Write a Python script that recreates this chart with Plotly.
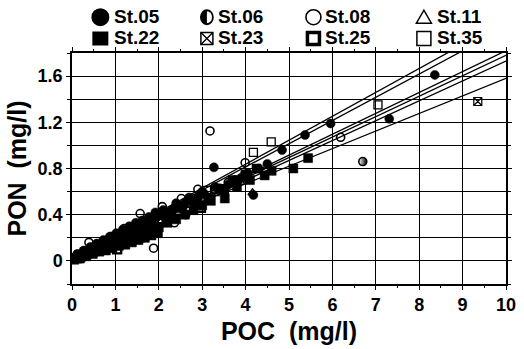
import plotly.graph_objects as go

# ---------------- data ----------------
st05_x = [0.08,0.12,0.15,0.22,0.27,0.3,0.38,0.42,0.45,0.52,0.57,0.6,0.68,0.72,0.75,0.82,0.87,0.9,0.98,1.02,
          1.05,1.12,1.17,1.2,1.28,1.32,1.35,1.45,1.47,1.55,1.62,1.65,1.75,1.77,1.85,1.92,1.95,2.05,2.1,2.15,
          2.25,2.3,2.4,2.45,2.55,2.6,2.7,2.75,2.85,2.9,3.0,3.05,3.15,3.27,3.3,3.4,3.5,3.6,3.7,3.75,
          3.9,4.05,4.18,4.3,4.5,4.84,5.37,5.96,7.31,8.36]
st05_y = [0.03,0.06,0.05,0.06,0.09,0.08,0.09,0.12,0.11,0.12,0.15,0.14,0.15,0.18,0.16,0.17,0.21,0.19,0.20,0.24,
          0.22,0.23,0.27,0.25,0.26,0.30,0.27,0.29,0.33,0.31,0.35,0.32,0.35,0.38,0.36,0.42,0.38,0.40,0.44,0.41,
          0.40,0.44,0.50,0.47,0.46,0.50,0.55,0.52,0.50,0.55,0.60,0.58,0.54,0.81,0.64,0.63,0.60,0.66,0.69,0.70,
          0.72,0.76,0.57,0.80,0.84,0.96,1.09,1.19,1.23,1.61]

st06_x = [0.1,0.25,0.4,0.55,0.7,0.85,1.0,1.15,1.3,1.5,1.7,1.9,2.1,2.3,2.5,2.7,3.0,3.3,3.6,6.7]
st06_y = [0.04,0.07,0.09,0.12,0.15,0.18,0.20,0.22,0.26,0.28,0.33,0.35,0.39,0.43,0.46,0.50,0.55,0.62,0.68,0.86]

st08_x = [0.2,0.39,0.6,0.9,1.2,1.4,1.57,1.64,1.88,2.08,2.36,2.52,2.62,2.9,3.18,3.99,6.19]
st08_y = [0.06,0.16,0.13,0.21,0.28,0.22,0.41,0.20,0.11,0.47,0.33,0.54,0.40,0.62,1.125,0.85,1.07]

st11_x = [0.05,0.1,0.18,0.25,0.32,0.4,0.5,0.6,0.7,0.8,0.95,1.1,4.16]
st11_y = [0.02,0.03,0.04,0.06,0.07,0.08,0.10,0.11,0.13,0.15,0.17,0.20,0.59]

st22_x = [0.05,0.12,0.18,0.2,0.28,0.33,0.35,0.42,0.48,0.5,0.58,0.63,0.65,0.72,0.78,0.8,0.88,0.93,0.95,1.02,
          1.08,1.1,1.18,1.23,1.25,1.32,1.38,1.4,1.5,1.53,1.6,1.68,1.7,1.8,1.83,1.9,1.98,2.0,2.2,2.4,
          2.6,2.8,3.0,3.2,3.4,3.52,3.7,3.8,4.0,4.1,4.25,4.44,4.6,5.1,5.44]
st22_y = [0.01,0.02,0.02,0.03,0.05,0.04,0.06,0.07,0.06,0.08,0.09,0.08,0.10,0.11,0.09,0.12,0.13,0.11,0.14,0.15,
          0.13,0.16,0.17,0.14,0.18,0.19,0.16,0.20,0.22,0.18,0.23,0.20,0.25,0.26,0.22,0.28,0.24,0.29,0.33,0.36,
          0.40,0.44,0.48,0.52,0.62,0.54,0.70,0.64,0.75,0.70,0.80,0.74,0.78,0.80,0.89]

st23_x = [0.15,0.35,0.55,0.75,0.95,1.25,1.55,1.85,2.15,2.45,2.85,3.3,3.9,9.35]
st23_y = [0.05,0.08,0.12,0.15,0.19,0.24,0.29,0.34,0.39,0.45,0.52,0.60,0.70,1.38]

st25_x = [0.3,0.6,1.04,1.3,1.7,2.0,2.97,3.5,4.0]
st25_y = [0.07,0.10,0.10,0.21,0.30,0.36,0.46,0.62,0.73]

st35_x = [0.2,0.45,0.8,1.1,1.45,2.25,3.1,4.18,4.59,7.05]
st35_y = [0.05,0.09,0.16,0.19,0.27,0.40,0.61,0.94,1.03,1.35]

# regression lines (slope, intercept)
reg_slopes = [0.207, 0.201, 0.181, 0.177, 0.172, 0.152]
reg_intercepts = [0.01, 0.01, 0.01, 0.01, 0.01, 0.06]
line_x = [0, 10]

station_names = ["St.05", "St.06", "St.08", "St.11", "St.22", "St.23", "St.25", "St.35"]
x_ticks = [0, 1, 2, 3, 4, 5, 6, 7, 8, 9, 10]
y_ticks = [0, 0.4, 0.8, 1.2, 1.6]

# ---------------- figure ----------------
fig = go.Figure()

for s, b in zip(reg_slopes, reg_intercepts):
    fig.add_trace(go.Scatter(x=line_x, y=[b + s * v for v in line_x], mode="lines",
                             line=dict(color="black", width=1.3), showlegend=False, hoverinfo="skip"))

def mk(x, y, symbol, size=8, lw=1.3, color="black", gradient=None):
    m = dict(symbol=symbol, size=size, color=color, line=dict(color="black", width=lw))
    if gradient:
        m["gradient"] = gradient
    fig.add_trace(go.Scatter(x=x, y=y, mode="markers", showlegend=False, marker=m))

mk(st35_x, st35_y, "square-open", 8, 1.3)
mk(st25_x, st25_y, "square-open", 8, 2.4)
mk(st23_x, st23_y, "square-x-open", 8, 1.2)
mk(st11_x, st11_y, "triangle-up-open", 8, 1.3)
mk(st08_x, st08_y, "circle-open", 8, 1.6)
mk(st06_x, st06_y, "circle", 8, 1.6, color="white",
   gradient=dict(type="horizontal", color="black"))
mk(st22_x, st22_y, "square", 9, 0.5)
mk(st05_x, st05_y, "circle", 9, 0.5)

FONT = "Liberation Sans"
axis_common = dict(showline=True, linecolor="black", linewidth=1.5, mirror="allticks",
                   ticks="outside", ticklen=4, tickwidth=1.3, tickcolor="black",
                   showgrid=True, gridcolor="black", gridwidth=1.3, zeroline=False,
                   tickfont=dict(family=FONT, size=18, color="black", weight="bold"))

fig.update_xaxes(range=[0, 10], tickvals=x_ticks, ticktext=[str(v) for v in x_ticks],
                 title=dict(text="POC\u00a0\u00a0(mg/l)", standoff=8,
                            font=dict(family=FONT, size=25, color="black", weight="bold")),
                 minor=dict(dtick=0.5, ticks="outside", ticklen=2, tickcolor="black", showgrid=False),
                 **axis_common)
fig.update_yaxes(range=[-0.2, 1.8], tickvals=y_ticks, ticktext=["0", "0.4", "0.8", "1.2", "1.6"],
                 title=dict(text="PON\u00a0\u00a0(mg/l)", standoff=4,
                            font=dict(family=FONT, size=25, color="black", weight="bold")),
                 minor=dict(tick0=0, dtick=0.2, ticks="outside", ticklen=3, tickcolor="black",
                            showgrid=True, gridcolor="black", gridwidth=1.3),
                 **axis_common)

# ---------------- legend (two rows of four, above the plot) ----------------
L, R, T, B = 72, 516, 53, 292
def px(X): return (X - L) / (R - L)
def py(Y): return (B - Y) / (B - T)

row_y = [15, 37]
sym_cx = [101, 210, 319, 432]
txt_x = [113, 219, 329, 443]
for i, name in enumerate(station_names):
    r, c = divmod(i, 4)
    fig.add_annotation(x=px(txt_x[c]), y=py(row_y[r]), xref="paper", yref="paper",
                       text=name, showarrow=False, xanchor="left", yanchor="middle",
                       font=dict(family=FONT, size=19, color="black", weight="bold"))

def legend_shape(c, r, kind, **kw):
    base = dict(xref="paper", yref="paper", xsizemode="pixel", ysizemode="pixel",
                xanchor=px(sym_cx[c]), yanchor=py(row_y[r] + 1), layer="above")
    base.update(kw)
    base["type"] = kind
    fig.add_shape(**base)

# St.05 filled circle
legend_shape(0, 0, "circle", x0=-9, x1=9, y0=-9, y1=9, fillcolor="black", line=dict(color="black", width=0))
# St.06 half-filled circle
legend_shape(1, 0, "circle", x0=-6, x1=6, y0=-7, y1=7, fillcolor="black", line=dict(width=0))
legend_shape(1, 0, "rect", x0=0, x1=7, y0=-8, y1=8, fillcolor="white", line=dict(width=0))
legend_shape(1, 0, "circle", x0=-6, x1=6, y0=-7, y1=7, line=dict(color="black", width=1.8))
# St.08 open circle
legend_shape(2, 0, "circle", x0=-7.5, x1=7.5, y0=-7.5, y1=7.5, line=dict(color="black", width=1.6))
# St.11 open triangle
legend_shape(3, 0, "path", path="M -7.5,-6 L 7.5,-6 L 0,7 Z", line=dict(color="black", width=1.5))
# St.22 filled square
legend_shape(0, 1, "rect", x0=-8, x1=8, y0=-7, y1=7, fillcolor="black", line=dict(width=0))
# St.23 crossed square
legend_shape(1, 1, "rect", x0=-6, x1=6, y0=-6, y1=6, line=dict(color="black", width=1.5))
legend_shape(1, 1, "path", path="M -6,-6 L 6,6 M -6,6 L 6,-6", line=dict(color="black", width=1.3))
# St.25 thick open square
legend_shape(2, 1, "rect", x0=-6, x1=6, y0=-6, y1=6, line=dict(color="black", width=3.5))
# St.35 thin open square
legend_shape(3, 1, "rect", x0=-7, x1=7, y0=-7, y1=7, line=dict(color="black", width=1.5))

fig.update_layout(width=524, height=349, margin=dict(l=L, r=524 - R, t=T, b=349 - B),
                  paper_bgcolor="white", plot_bgcolor="white", showlegend=False)

fig.write_html("out.html")
